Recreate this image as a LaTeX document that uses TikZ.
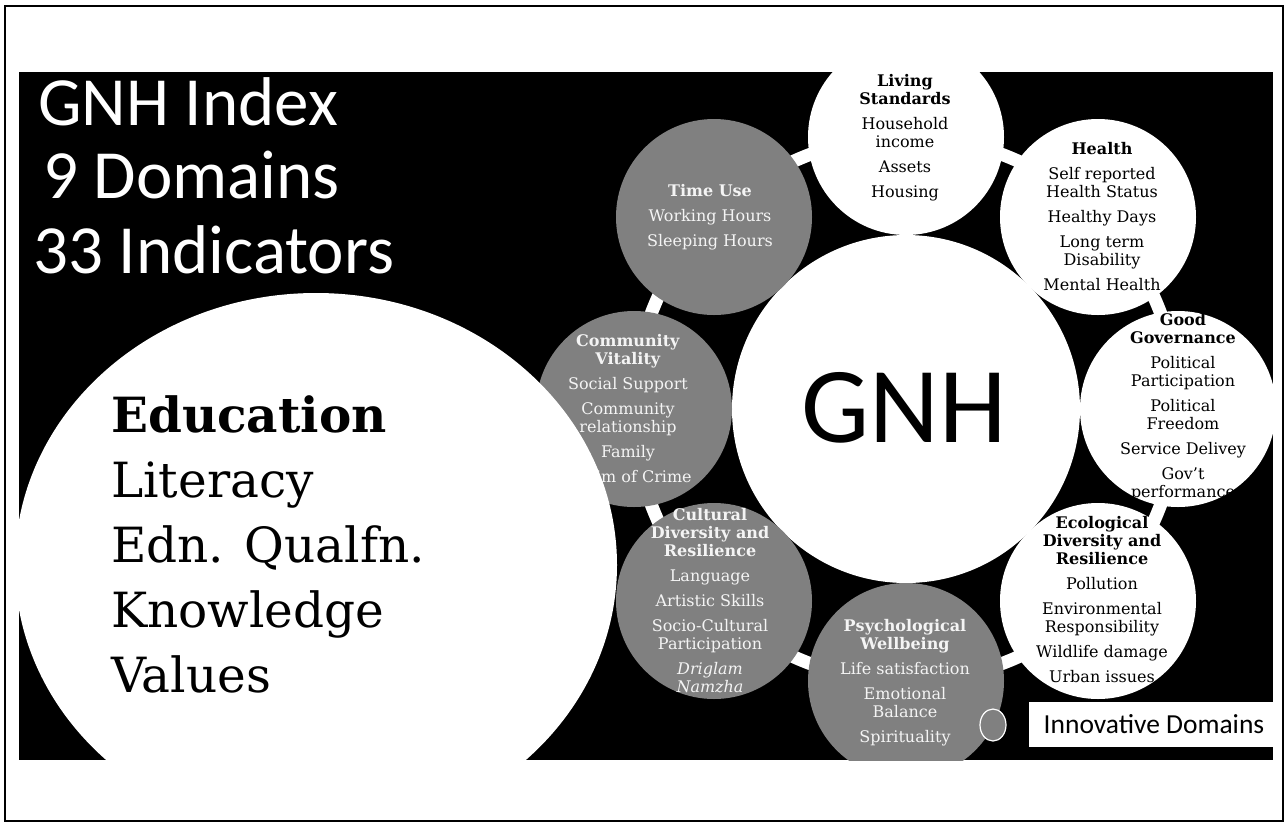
\documentclass[tikz,border=0pt]{standalone}
\usepackage{fontspec}
\usetikzlibrary{shapes.geometric}
\setmainfont{DejaVu Serif}
\newfontfamily\calib{Carlito}
\definecolor{gfill}{RGB}{128,128,128}
\definecolor{gtext}{RGB}{244,244,244}
\newcommand{\grpsep}{\\[7pt]}
\begin{document}
\begin{tikzpicture}[x=1pt,y=-1pt,
  sat/.style={circle,inner sep=0pt,minimum size=196pt},
  wsat/.style={sat,fill=white},
  gsat/.style={sat,fill=gfill},
  wtxt/.style={anchor=base,align=center,inner sep=0pt,text=black,font=\fontsize{16}{18}\selectfont},
  gtxt/.style={wtxt,text=gtext},
  bigsans/.style={anchor=base west,inner sep=0pt,text=white,font=\calib\fontsize{69}{69}\selectfont}]
\useasboundingbox (0,0) rectangle (1286,823);
\fill[white] (0,0) rectangle (1286,823);
\draw[line width=2.5pt] (5,6) rectangle (1283,821);
\fill[black] (19,72) rectangle (1273,760);
\begin{scope}
\clip (19,72) rectangle (1273,760);
\node[circle,draw=white,line width=13pt,minimum size=544pt,inner sep=0pt] (ring) at (906,409) {};
\node[circle,fill=white,minimum size=348pt,inner sep=0pt] (gnh) at (906,409) {};
\node[anchor=base,inner sep=0pt,font=\calib\fontsize{108}{108}\selectfont] (gnhtxt) at (904,442) {GNH};
% satellites
\node[wsat] (ls) at (906,137) {};
\node[wsat] (he) at (1098,217) {};
\node[wsat] (gg) at (1178,409) {};
\node[wsat] (ec) at (1098,601) {};
\node[gsat] (ps) at (906,681) {};
\node[gsat] (cv) at (634,409) {};
\node[gsat] (tu) at (714,217) {};
% texts (anchor base = baseline of last line)
\node[wtxt] (lst) at (905,197) {\textbf{Living}\\\textbf{Standards}\grpsep Household\\income\grpsep Assets\grpsep Housing};
\node[wtxt] (het) at (1102,290) {\textbf{Health}\grpsep Self reported\\Health Status\grpsep Healthy Days\grpsep Long term\\Disability\grpsep Mental Health};
\node[wtxt] (ggt) at (1183,497) {\textbf{Good}\\\textbf{Governance}\grpsep Political\\Participation\grpsep Political\\Freedom\grpsep Service Delivey\grpsep Gov’t\\performance};
\node[wtxt] (ect) at (1102,682) {\textbf{Ecological}\\\textbf{Diversity and}\\\textbf{Resilience}\grpsep Pollution\grpsep Environmental\\Responsibility\grpsep Wildlife damage\grpsep Urban issues};
\node[gtxt] (pst) at (905,742) {\textbf{Psychological}\\\textbf{Wellbeing}\grpsep Life satisfaction\grpsep Emotional\\Balance\grpsep Spirituality};
\node[gtxt] (cvt) at (628,482) {\textbf{Community}\\\textbf{Vitality}\grpsep Social Support\grpsep Community\\relationship\grpsep Family\grpsep Victim of Crime};
\node[gtxt] (tut) at (710,246) {\textbf{Time Use}\grpsep Working Hours\grpsep Sleeping Hours};
% education (over community vitality, under cultural diversity)
\node[ellipse,fill=white,minimum width=602pt,minimum height=544pt,inner sep=0pt] (edu) at (316,565) {};
\node[gsat] (cu) at (714,601) {};
\node[gtxt] (cut) at (710,692) {\textbf{Cultural}\\\textbf{Diversity and}\\\textbf{Resilience}\grpsep Language\grpsep Artistic Skills\grpsep Socio-Cultural\\Participation\grpsep \textit{Driglam}\\\textit{Namzha}};
\node[anchor=base west,align=left,inner sep=0pt,font=\fontsize{48.5}{65}\selectfont] (edut) at (111,692) {\textbf{Education}\\Literacy\\Edn. Qualfn.\\Knowledge\\Values};
\node[ellipse,draw=white,line width=1.2pt,fill=gfill,minimum width=26pt,minimum height=32pt,inner sep=0pt] (dot) at (993,725) {};
\end{scope}
\node[bigsans] (t1) at (38,125) {GNH Index};
\node[bigsans] (t2) at (43,198) {9 Domains};
\node[bigsans] (t3) at (33,273) {33 Indicators};
\node[fill=white,minimum width=244pt,minimum height=45pt,inner sep=0pt] (inno) at (1151,724.5) {};
\node[anchor=base,inner sep=0pt,font=\calib\fontsize{27.5}{27.5}\selectfont] (innot) at (1154,733) {Innovative Domains};
\end{tikzpicture}
\end{document}
